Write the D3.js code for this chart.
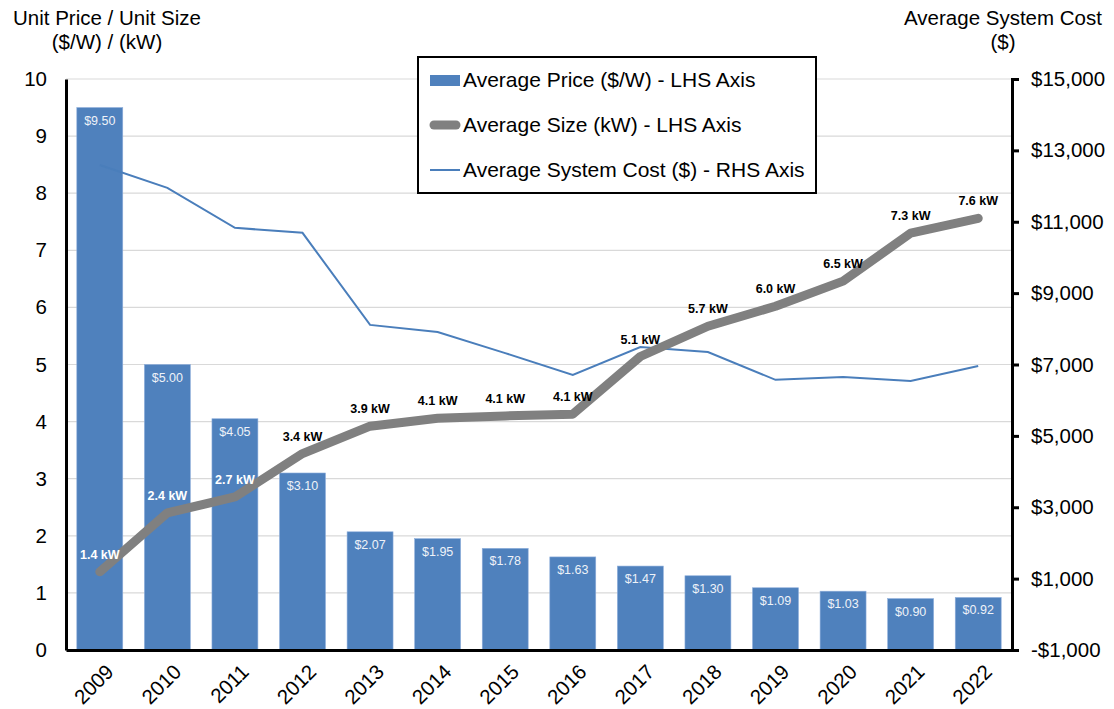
<!DOCTYPE html>
<html>
<head>
<meta charset="utf-8">
<script src="https://cdn.jsdelivr.net/npm/d3@7"></script>
<style>
  body { margin: 0; background: #fff; }
  text { font-family: Arial, "Liberation Sans", sans-serif; }
</style>
</head>
<body>
<script>
// chart data
var years = ["2009","2010","2011","2012","2013","2014","2015","2016","2017","2018","2019","2020","2021","2022"];
var avgPrice = [9.50, 5.00, 4.05, 3.10, 2.07, 1.95, 1.78, 1.63, 1.47, 1.30, 1.09, 1.03, 0.90, 0.92];
var avgSize = [1.37, 2.40, 2.68, 3.44, 3.92, 4.06, 4.10, 4.13, 5.14, 5.67, 6.02, 6.46, 7.30, 7.56];
var avgCost = [12590, 11950, 10830, 10690, 8110, 7910, 7320, 6710, 7490, 7350, 6570, 6650, 6540, 6960];
var leftTicks = [0,1,2,3,4,5,6,7,8,9,10];
var rightTicks = [-1000,1000,3000,5000,7000,9000,11000,13000,15000];
var legendItems = ["Average Price ($/W) - LHS Axis", "Average Size (kW) - LHS Axis", "Average System Cost ($) - RHS Axis"];

var width = 1114, height = 709;
var margin = {top: 79, right: 102, bottom: 59, left: 66};
var bigFont = 20.5;

var svg = d3.select("body").append("svg")
  .attr("width", width)
  .attr("height", height);

var x = d3.scaleBand()
  .domain(years)
  .range([margin.left, width - margin.right])
  .paddingInner(0.32)
  .paddingOuter(0.16);

var y = d3.scaleLinear().domain([0, 10]).range([height - margin.bottom, margin.top]);
var yR = d3.scaleLinear().domain([-1000, 15000]).range([height - margin.bottom, margin.top]);

var cx = function(d, i) { return x(years[i]) + x.bandwidth() / 2; };

// gridlines
svg.append("g").selectAll("line")
  .data(leftTicks.filter(function(d) { return d > 0; }))
  .enter().append("line")
  .attr("x1", margin.left).attr("x2", width - margin.right)
  .attr("y1", function(d) { return y(d); }).attr("y2", function(d) { return y(d); })
  .attr("stroke", "#d9d9d9").attr("stroke-width", 1.2);

// bars
svg.append("g").selectAll("rect")
  .data(avgPrice)
  .enter().append("rect")
  .attr("x", function(d, i) { return x(years[i]); })
  .attr("y", function(d) { return y(d); })
  .attr("width", x.bandwidth())
  .attr("height", function(d) { return y(0) - y(d); })
  .attr("fill", "#4f81bd")
  .attr("stroke", "#8eaedb").attr("stroke-width", 0.6);

svg.append("g").selectAll("text")
  .data(avgPrice)
  .enter().append("text")
  .attr("x", cx)
  .attr("y", function(d) { return y(d) + 17; })
  .attr("text-anchor", "middle")
  .attr("font-size", 12.5)
  .attr("fill", "#eef2f8")
  .text(function(d) { return "$" + d.toFixed(2); });

// system cost line (RHS)
svg.append("path")
  .datum(avgCost)
  .attr("fill", "none")
  .attr("stroke", "#4a7ebb")
  .attr("stroke-width", 2)
  .attr("d", d3.line().x(cx).y(function(d) { return yR(d); }));

// size line (LHS)
svg.append("path")
  .datum(avgSize)
  .attr("fill", "none")
  .attr("stroke", "#808080")
  .attr("stroke-width", 9)
  .attr("stroke-linejoin", "round")
  .attr("stroke-linecap", "round")
  .attr("d", d3.line().x(cx).y(function(d) { return y(d); }));

svg.append("g").selectAll("text")
  .data(avgSize)
  .enter().append("text")
  .attr("x", cx)
  .attr("y", function(d) { return y(d) - 13; })
  .attr("text-anchor", "middle")
  .attr("font-size", 12.5)
  .attr("font-weight", "bold")
  .attr("fill", function(d, i) { return i < 3 ? "#ffffff" : "#000000"; })
  .text(function(d) { return d.toFixed(1) + " kW"; });

// left axis
var gL = svg.append("g")
  .attr("transform", "translate(" + margin.left + ",0)")
  .call(d3.axisLeft(y).tickValues(leftTicks).tickSize(0).tickPadding(19).tickFormat(d3.format("d")));
gL.select(".domain").attr("stroke", "#000").attr("stroke-width", 3);
gL.selectAll("text").attr("font-size", bigFont).attr("fill", "#000").style("font-family", "Arial, 'Liberation Sans', sans-serif");

// right axis
var gR = svg.append("g")
  .attr("transform", "translate(" + (width - margin.right) + ",0)")
  .call(d3.axisRight(yR).tickValues(rightTicks).tickSize(7).tickPadding(12)
    .tickFormat(function(d) { return (d < 0 ? "-$" : "$") + d3.format(",")(Math.abs(d)); }));
gR.select(".domain").attr("stroke", "#000").attr("stroke-width", 3);
gR.selectAll(".tick line").attr("stroke", "#000").attr("stroke-width", 3);
gR.selectAll("text").attr("font-size", bigFont).attr("fill", "#000").style("font-family", "Arial, 'Liberation Sans', sans-serif");

// bottom axis
var gB = svg.append("g")
  .attr("transform", "translate(0," + (height - margin.bottom) + ")")
  .call(d3.axisBottom(x).tickSize(0).tickSizeOuter(0).tickFormat(""));
gB.select(".domain").attr("stroke", "#000").attr("stroke-width", 3);

svg.append("g").selectAll("text")
  .data(years)
  .enter().append("text")
  .attr("transform", function(d) {
    return "translate(" + (x(d) + x.bandwidth() / 2 + 5) + "," + (height - margin.bottom + 13) + ") rotate(-45)";
  })
  .attr("text-anchor", "end")
  .attr("dy", "0.7em")
  .attr("font-size", bigFont)
  .text(function(d) { return d; });

// axis titles
svg.append("text").attr("x", 107).attr("y", 25).attr("text-anchor", "middle").attr("font-size", bigFont).text("Unit Price / Unit Size");
svg.append("text").attr("x", 107).attr("y", 49).attr("text-anchor", "middle").attr("font-size", bigFont).text("($/W) / (kW)");
svg.append("text").attr("x", 1003).attr("y", 25).attr("text-anchor", "middle").attr("font-size", bigFont).text("Average System Cost");
svg.append("text").attr("x", 1003).attr("y", 49).attr("text-anchor", "middle").attr("font-size", bigFont).text("($)");

// legend
var lg = svg.append("g").attr("transform", "translate(418,57)");
lg.append("rect").attr("width", 398).attr("height", 136)
  .attr("fill", "#fff").attr("stroke", "#000").attr("stroke-width", 2);
lg.append("rect").attr("x", 12).attr("y", 18).attr("width", 30).attr("height", 11).attr("fill", "#4f81bd");
lg.append("line").attr("x1", 16).attr("x2", 38).attr("y1", 68).attr("y2", 68)
  .attr("stroke", "#808080").attr("stroke-width", 9).attr("stroke-linecap", "round");
lg.append("line").attr("x1", 12).attr("x2", 42).attr("y1", 113).attr("y2", 113)
  .attr("stroke", "#4a7ebb").attr("stroke-width", 2);
lg.selectAll("text.lgt")
  .data(legendItems)
  .enter().append("text")
  .attr("class", "lgt")
  .attr("x", 45)
  .attr("y", function(d, i) { return 30 + i * 45; })
  .attr("font-size", 21)
  .text(function(d) { return d; });
</script>
</body>
</html>
